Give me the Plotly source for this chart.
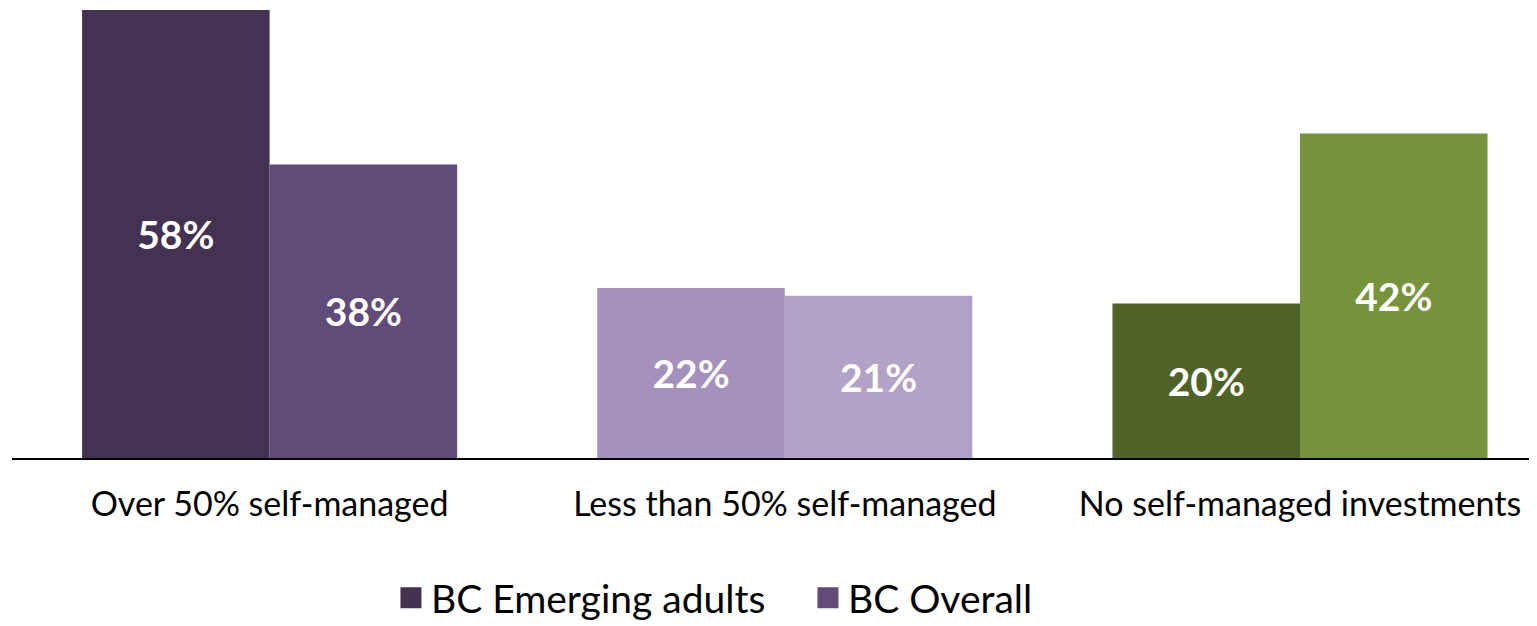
import plotly.graph_objects as go

categories = ["Over 50% self-managed", "Less than 50% self-managed", "No self-managed investments"]
series_names = ["BC Emerging adults", "BC Overall"]
emerging = [58, 22, 20]
overall = [38, 21, 42]
emerging_colors = ["#433251", "#A491BE", "#4F6228"]
overall_colors = ["#614B79", "#B3A2C7", "#77933C"]

FONT = "Lato, Carlito, 'Open Sans', sans-serif"

fig = go.Figure()
for name, vals, cols in [(series_names[0], emerging, emerging_colors),
                         (series_names[1], overall, overall_colors)]:
    fig.add_trace(go.Bar(
        x=categories, y=vals, name=name,
        marker=dict(color=cols, line=dict(width=0)),
        text=[f"{v}%" for v in vals],
        textposition="inside", insidetextanchor="middle",
        textfont=dict(family=FONT, size=39, color="white", weight="bold"),
        textangle=0, constraintext="none",
        showlegend=False,
    ))
    # legend proxy
    fig.add_trace(go.Scatter(
        x=[None], y=[None], mode="markers", name=name,
        marker=dict(symbol="square", size=16, color=cols[0],
                    line=dict(width=5, color=cols[0])),
        showlegend=True,
    ))

# page body has an 8px margin; compensate so the figure lands at the window origin
fig.update_layout(
    width=1529, height=618,
    margin=dict(l=4, r=0, t=2, b=168, autoexpand=False),
    paper_bgcolor="white", plot_bgcolor="white",
    barmode="group", bargap=0.272, bargroupgap=0,
    font=dict(family=FONT, color="black"),
    legend=dict(orientation="h", x=0.2485, xanchor="left", y=-0.312, yanchor="middle",
                font=dict(size=39, family=FONT, color="black"), itemsizing="trace",
                tracegroupgap=0, itemwidth=30, entrywidth=372, entrywidthmode="pixels"),
    xaxis=dict(range=[-0.5, 2.46], showline=True, linecolor="black", linewidth=2,
               ticks="", tickfont=dict(size=34, family=FONT, color="black"),
               ticklabelstandoff=15,
               showgrid=False, zeroline=False, fixedrange=True),
    yaxis=dict(range=[0, 58], visible=False, showgrid=False, zeroline=False),
)

fig.write_html("out.html")
